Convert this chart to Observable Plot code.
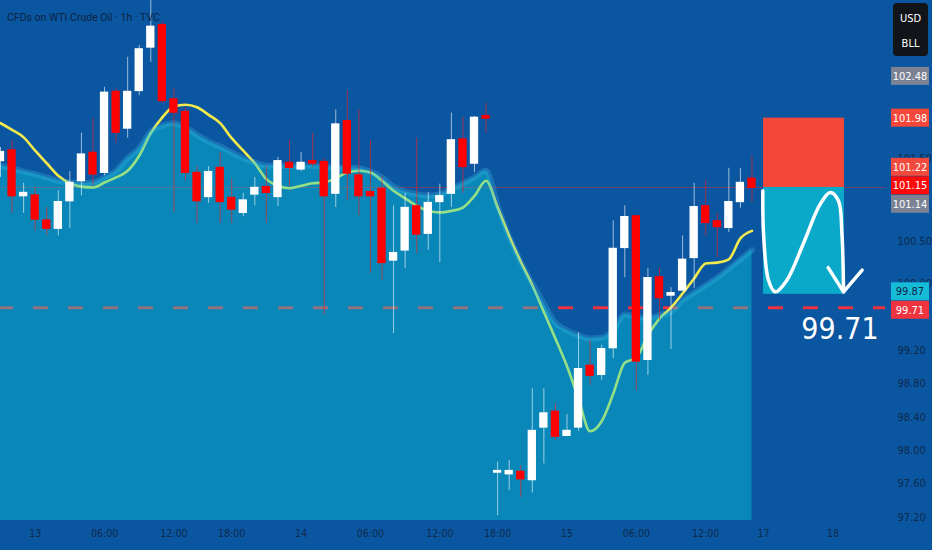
<!DOCTYPE html>
<html><head><meta charset="utf-8">
<script src="https://cdn.jsdelivr.net/npm/d3@7"></script>
<script src="https://cdn.jsdelivr.net/npm/@observablehq/plot@0.6"></script>
<style>
html,body{margin:0;padding:0;background:#0b56a0;overflow:hidden;}
#chart svg{display:block;}
</style></head><body><div id="chart"></div>
<script>
const title = "CFDs on WTI Crude Oil · 1h · TVC";
const opens = [101.47,101.59,101.05,101.05,100.75,100.66,100.99,101.23,101.56,101.33,
  102.29,101.86,102.31,102.83,103.09,102.20,102.05,101.32,101.04,101.38,
  101.02,100.85,101.07,101.15,101.04,101.44,101.37,101.46,101.45,101.08,
  101.94,101.29,101.09,101.13,100.28,100.40,100.92,100.60,100.98,101.08,
  101.72,101.44,102.00,97.74,97.72,97.74,97.65,98.28,98.46,98.18,
  98.28,99.01,98.91,99.23,100.43,100.80,99.09,100.07,99.86,99.92,
  100.31,100.92,100.74,100.67,100.98,101.25];
const highs = [101.63,101.71,101.20,101.15,100.91,101.11,101.34,101.80,101.98,102.35,
  102.34,102.71,102.85,103.40,103.13,102.34,102.10,101.40,101.40,101.57,
  101.25,101.08,101.27,101.40,101.51,101.72,101.57,101.80,101.50,102.08,
  102.31,102.08,101.71,101.29,100.93,101.08,101.74,101.09,101.19,102.04,
  101.99,102.00,102.16,97.86,97.88,97.82,98.74,98.74,98.56,98.43,
  99.41,99.32,99.26,100.75,100.93,100.80,100.18,100.19,99.95,100.57,
  101.20,101.23,100.84,101.38,101.38,101.53];
const lows = [101.27,100.84,100.84,100.63,100.57,100.57,100.66,101.05,101.17,101.29,
  101.68,101.74,102.25,102.65,102.16,100.85,101.23,100.72,100.96,100.72,
  100.72,100.80,100.93,100.72,100.92,101.16,101.34,101.39,99.62,100.91,
  100.99,100.81,100.12,100.04,99.40,100.18,100.36,100.40,100.25,100.91,
  101.08,101.33,101.80,97.22,97.52,97.44,97.49,97.84,98.12,98.17,
  98.23,98.78,98.84,99.10,100.07,98.72,98.90,99.56,99.21,99.92,
  99.94,100.57,100.31,100.61,100.90,100.97];
const closes = [101.57,101.05,101.08,100.77,100.66,100.97,101.20,101.54,101.31,102.28,
  101.81,102.29,102.80,103.07,102.19,102.05,101.33,100.99,101.33,100.98,
  100.89,100.99,101.14,101.09,101.46,101.39,101.44,101.44,101.05,101.90,
  101.32,101.05,101.05,100.25,100.36,100.90,100.59,100.96,101.04,101.71,
  101.40,101.98,101.98,97.75,97.75,97.66,98.23,98.44,98.17,98.23,
  98.97,98.90,99.21,100.41,100.79,99.07,100.06,99.83,99.88,100.28,
  100.91,100.73,100.68,100.97,101.20,101.15];
const emaFast = [101.92,101.84,101.75,101.59,101.44,101.29,101.20,101.16,101.15,101.21,
  101.27,101.35,101.53,101.80,101.99,102.12,102.14,102.11,102.02,101.92,
  101.74,101.59,101.44,101.25,101.17,101.14,101.17,101.20,101.21,101.26,
  101.33,101.35,101.33,101.23,101.11,101.02,100.93,100.87,100.85,100.87,
  100.91,101.05,101.23,100.91,100.57,100.26,99.98,99.66,99.34,99.01,
  98.62,98.23,98.35,98.68,99.05,99.11,99.38,99.58,99.71,99.88,
  100.06,100.24,100.25,100.29,100.54,100.63];
const emaSlow = [101.41,101.38,101.34,101.31,101.27,101.23,101.21,101.20,101.21,101.27,
  101.35,101.50,101.62,101.82,101.89,101.92,101.87,101.78,101.70,101.64,
  101.57,101.50,101.45,101.41,101.41,101.41,101.41,101.41,101.40,101.39,
  101.39,101.38,101.34,101.27,101.16,101.10,101.07,101.05,101.07,101.13,
  101.20,101.27,101.35,100.93,100.56,100.26,100.00,99.76,99.53,99.44,
  99.38,99.34,99.35,99.44,99.63,99.60,99.59,99.62,99.66,99.80,
  99.89,99.98,100.07,100.18,100.29,100.40];
const xTicks = [3,9,15,20,26,32,38,43,49,55,61,66,72];
const xTickLabels = ["13","06:00","12:00","18:00","14","06:00","12:00","18:00","15","06:00","12:00","17","18"];
const yTicks = [101.5,100.5,100.0,99.2,98.8,98.4,98.0,97.6,97.2];
const priceLabels = [102.48,101.98,101.22,101.15,101.14,99.87,99.71];
const currency = ["USD","BLL"];
const entryPrice = 101.15, stopPrice = 101.98, targetPrice = 99.87, levelPrice = 99.71;
const positionSpan = [66, 73];
const arrowCurve = [[65.94,101.11],[66.0,100.60],[66.43,100.04],[67.01,99.90],[68.02,100.04],
  [69.45,100.48],[70.90,100.95],[71.77,101.09],[72.48,100.99],[72.78,100.60],[72.92,99.90]];
const arrowHead = [[71.59,100.19],[72.92,99.90],[74.53,100.16]];

// ---- presentation ----
const W = 932, H = 550;
const yDomain = [97.162, 103.389];
const xDomain = [0, 76.55];
const FONT = '"Liberation Sans Narrow","DejaVu Sans Condensed",Roboto,sans-serif';
const BG = "#0b56a0";
const AXIS_TEXT = "#0e2a4d";

const candles = opens.map((o, i) => ({k: i, o, h: highs[i], l: lows[i], c: closes[i], up: closes[i] >= o}));
const fast = emaFast.map((v, k) => ({k, v}));
const slow = emaSlow.map((v, k) => ({k, v}));
const toPts = arr => arr.map(([k, v]) => ({k, v}));

const chart = Plot.plot({
  width: W, height: H,
  marginLeft: 0, marginRight: 47, marginTop: 0, marginBottom: 30,
  style: {background: BG, fontFamily: FONT, overflow: "visible"},
  x: {domain: xDomain, label: null},
  y: {domain: yDomain, label: null},
  marks: [
    Plot.ruleY([levelPrice], {stroke: "#f0323f", strokeWidth: 3, strokeDasharray: "15,20", strokeDashoffset: 2}),
    Plot.ruleY([entryPrice], {stroke: "#c8303c", strokeOpacity: 0.55, strokeWidth: 1}),
    Plot.line(fast, {x: "k", y: "v", stroke: "#f4ea4c", strokeWidth: 2.6, curve: "monotone-x"}),
    Plot.areaY(slow, {x: "k", y1: () => yDomain[0], y2: "v", fill: "#08d3de", fillOpacity: 0.4, curve: "monotone-x"}),
    Plot.line(slow, {x: "k", y: "v", stroke: "#3fc0ea", strokeOpacity: 0.28, strokeWidth: 6, curve: "monotone-x"}),
    Plot.ruleX(candles, {x: "k", y1: "l", y2: "h", stroke: d => d.up ? "#ffffff" : "#ff1a1a", strokeOpacity: 0.6, strokeWidth: 1}),
    Plot.rect(candles, {x1: d => d.k - 0.36, x2: d => d.k + 0.36, y1: d => Math.min(d.o, d.c), y2: d => Math.max(d.o, d.c),
      fill: d => d.up ? "#ffffff" : "#ff0000", insetTop: -1, insetBottom: -1}),
    Plot.rect([{a: stopPrice, b: entryPrice}], {x1: () => positionSpan[0], x2: () => positionSpan[1], y1: "a", y2: "b", fill: "#f4473a"}),
    Plot.rect([{a: entryPrice, b: targetPrice}], {x1: () => positionSpan[0], x2: () => positionSpan[1], y1: "a", y2: "b", fill: "#0ba9c9"}),
    Plot.line(toPts(arrowCurve), {x: "k", y: "v", stroke: "#ffffff", strokeWidth: 3.5, curve: "catmull-rom", strokeLinecap: "round"}),
    Plot.line(toPts(arrowHead), {x: "k", y: "v", stroke: "#ffffff", strokeWidth: 3.5, strokeLinecap: "round", strokeLinejoin: "round"}),
    Plot.text([levelPrice], {x: () => 75.95, y: d => d, text: d => d.toFixed(2), fill: "#ffffff", fontSize: 30,
      textAnchor: "end", dy: 22, fontFamily: FONT, letterSpacing: "0.5px"}),
    Plot.axisX(xTicks, {anchor: "bottom", tickSize: 0, tickPadding: 9, fontSize: 10.5, fill: AXIS_TEXT, label: null,
      tickFormat: d => xTickLabels[xTicks.indexOf(d)]}),
    Plot.axisY(yTicks, {anchor: "right", tickSize: 0, tickPadding: 12, fontSize: 11, fill: AXIS_TEXT, label: null,
      tickFormat: d => d.toFixed(2)})
  ]
});
document.getElementById("chart").appendChild(chart);

// ---- overlays using the plot's own y scale ----
const svg = d3.select(chart);
const ys = chart.scale("y");

svg.append("text").attr("x", 7).attr("y", 21).attr("fill", "#0c2442").attr("text-anchor", "start")
  .attr("font-family", "Roboto, sans-serif").attr("font-size", 10.5).text(title);

// currency badge
const badge = svg.append("g");
badge.append("rect").attr("x", 893).attr("y", 3).attr("width", 35).attr("height", 53).attr("rx", 4).attr("fill", "#111419");
currency.forEach((t, i) => badge.append("text").attr("x", 910.5).attr("y", 22 + i * 25)
  .attr("text-anchor", "middle").attr("fill", "#ffffff").attr("font-family", FONT).attr("font-size", 11).text(t));

// price labels with collision avoidance (as the trading platform stacks them)
const labelFill = ["#7b8294", "#f4473a", "#f24a3c", "#ff0a0a", "#7b8294", "#16bbd8", "#ef3440"];
const labelInk = ["#ffffff", "#ffffff", "#ffffff", "#ffffff", "#ffffff", "#0b2545", "#ffffff"];
const LH = 18.5;
const items = priceLabels.map((p, i) => ({i, p, y0: ys.apply(p)})).sort((a, b) => a.y0 - b.y0);
let groups = items.map(d => ({items: [d], center: d.y0}));
let merged = true;
while (merged) {
  merged = false;
  for (let g = 0; g < groups.length - 1; g++) {
    const a = groups[g], b = groups[g + 1];
    if (a.center + a.items.length * LH / 2 > b.center - b.items.length * LH / 2) {
      const its = a.items.concat(b.items);
      groups.splice(g, 2, {items: its, center: d3.mean(its, d => d.y0)});
      merged = true; break;
    }
  }
}
groups.forEach(g => g.items.forEach((d, j) => d.y = g.center - g.items.length * LH / 2 + LH * (j + 0.5)));
const lg = svg.append("g");
items.forEach(d => {
  lg.append("rect").attr("x", 891).attr("y", d.y - 9).attr("width", 38).attr("height", 18).attr("fill", labelFill[d.i]);
  lg.append("text").attr("x", 910).attr("y", d.y).attr("dy", "0.35em").attr("text-anchor", "middle")
    .attr("fill", labelInk[d.i]).attr("font-family", FONT).attr("font-size", 11).text(d.p.toFixed(2));
});
</script></body></html>
